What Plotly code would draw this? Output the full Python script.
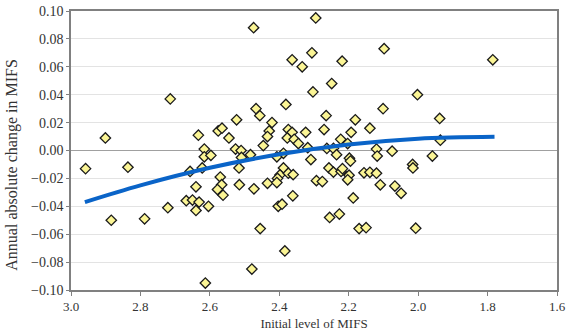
import plotly.graph_objects as go

# Scatter data: initial level of MIFS (x) vs annual absolute change (y)
mifs_initial = [
    2.958, 2.901, 2.836, 2.714, 2.884, 2.788, 2.721, 2.657, 2.668, 2.650,
    2.631, 2.640, 2.640, 2.633, 2.604, 2.613,
    2.474, 2.295, 2.098, 2.363, 2.306, 2.334, 2.219, 2.249, 2.303, 2.381,
    2.101, 2.467, 2.456, 2.265, 2.523, 2.181, 2.421, 2.576, 2.565, 2.429,
    2.374, 2.363, 2.324, 2.271, 2.139, 2.193, 2.545, 2.434, 2.377, 2.357,
    2.223, 2.345, 2.203, 2.446, 2.318, 2.616, 2.526, 2.510, 2.263, 2.244,
    2.120, 2.075, 2.616, 2.597, 2.509, 2.483, 2.407, 2.388, 2.235, 2.118,
    2.309, 2.198, 2.195, 2.622, 2.516, 2.388, 2.257, 2.398, 2.374,
    2.360, 2.405, 2.570, 2.566, 2.515, 2.434, 2.407, 2.473, 2.578, 2.562,
    2.361, 2.403, 2.392, 2.455, 2.384, 2.479,
    1.959, 2.016, 2.015, 2.244, 2.222, 2.218, 2.156, 2.139, 2.120,
    2.199, 2.203, 2.293, 2.276, 2.109, 2.067, 2.049, 2.187, 2.255, 2.227,
    2.170, 2.150, 2.007,
    1.785, 2.002, 1.938, 1.936,
]
mifs_change = [
    -0.013, 0.009, -0.012, 0.037, -0.050, -0.049, -0.041, -0.015, -0.036, -0.0355,
    -0.037, -0.026, -0.043, 0.011, -0.040, -0.095,
    0.088, 0.095, 0.073, 0.065, 0.070, 0.060, 0.064, 0.048, 0.042, 0.033,
    0.030, 0.030, 0.025, 0.025, 0.022, 0.022, 0.020, 0.014, 0.016, 0.014,
    0.015, 0.013, 0.013, 0.015, 0.016, 0.013, 0.009, 0.010, 0.009, 0.008,
    0.008, 0.005, 0.005, 0.0035, 0.002, 0.001, 0.001, 0.000, 0.0015, 0.0015,
    0.001, -0.0005, -0.0045, -0.0035, -0.005, -0.003, -0.0045, -0.002, -0.003, -0.004,
    -0.0065, -0.0055, -0.0076, -0.0125, -0.0125, -0.0125, -0.0125, -0.0175, -0.0163,
    -0.0173, -0.020, -0.019, -0.0245, -0.0245, -0.0235, -0.023, -0.0275, -0.028, -0.032,
    -0.0325, -0.040, -0.0385, -0.056, -0.072, -0.085,
    -0.004, -0.010, -0.0125, -0.0155, -0.015, -0.013, -0.016, -0.0156, -0.0163,
    -0.0177, -0.021, -0.0216, -0.0223, -0.0246, -0.0255, -0.0307, -0.034, -0.048, -0.0456,
    -0.056, -0.0553, -0.0557,
    0.065, 0.040, 0.023, 0.0074,
]

# Fitted trend curve
trend_x = [2.96, 2.80, 2.60, 2.40, 2.20, 2.00, 1.78]
trend_y = [-0.037, -0.025, -0.0124, -0.0027, 0.0043, 0.0085, 0.0099]

x_ticks = [3.0, 2.8, 2.6, 2.4, 2.2, 2.0, 1.8, 1.6]
y_ticks = [-0.10, -0.08, -0.06, -0.04, -0.02, 0.00, 0.02, 0.04, 0.06, 0.08, 0.10]

fig = go.Figure()
fig.add_trace(go.Scatter(
    x=mifs_initial, y=mifs_change, mode="markers",
    marker=dict(symbol="diamond", size=8, color="#FBF595",
                line=dict(color="#1a1a1a", width=1.3)),
    showlegend=False, hoverinfo="skip",
))
fig.add_trace(go.Scatter(
    x=trend_x, y=trend_y, mode="lines",
    line=dict(color="#0A64C8", width=4, shape="spline"),
    showlegend=False, hoverinfo="skip",
))

serif = "Liberation Serif"
fig.update_layout(
    width=570, height=333,
    margin=dict(l=71, r=7, t=4, b=40),
    paper_bgcolor="white", plot_bgcolor="white",
    font=dict(family=serif, color="#333333"),
    xaxis=dict(
        range=[3.0, 1.6], tickvals=x_ticks, ticktext=[f"{v:.1f}" for v in x_ticks],
        showgrid=False, zeroline=False,
        showline=True, linecolor="#808080", linewidth=1.5, mirror=True,
        ticks="outside", ticklen=4, tickcolor="#808080",
        ticklabeloverflow="allow",
        tickfont=dict(family=serif, size=13, color="#333333"),
        title=dict(text="Initial level of MIFS", font=dict(family=serif, size=13, color="#333333"), standoff=6),
    ),
    yaxis=dict(
        range=[-0.10, 0.10], tickvals=y_ticks,
        ticktext=[("\u2212" if v < 0 else "") + f"{abs(v):.2f}" for v in y_ticks],
        showgrid=True, gridcolor="#E3E3E3", gridwidth=1,
        zeroline=True, zerolinecolor="#A0A0A0", zerolinewidth=1.2,
        showline=True, linecolor="#808080", linewidth=1.5, mirror=True,
        ticks="outside", ticklen=3, tickcolor="#808080",
        ticklabeloverflow="allow",
        tickfont=dict(family=serif, size=14, color="#333333"),
    ),
    annotations=[dict(
        text="Annual absolute change in MIFS", textangle=-90,
        xref="paper", yref="paper", x=-0.122, y=0.448,
        xanchor="center", yanchor="middle", showarrow=False,
        font=dict(family=serif, size=16, color="#333333"),
    )],
)

fig.write_html("out.html")
